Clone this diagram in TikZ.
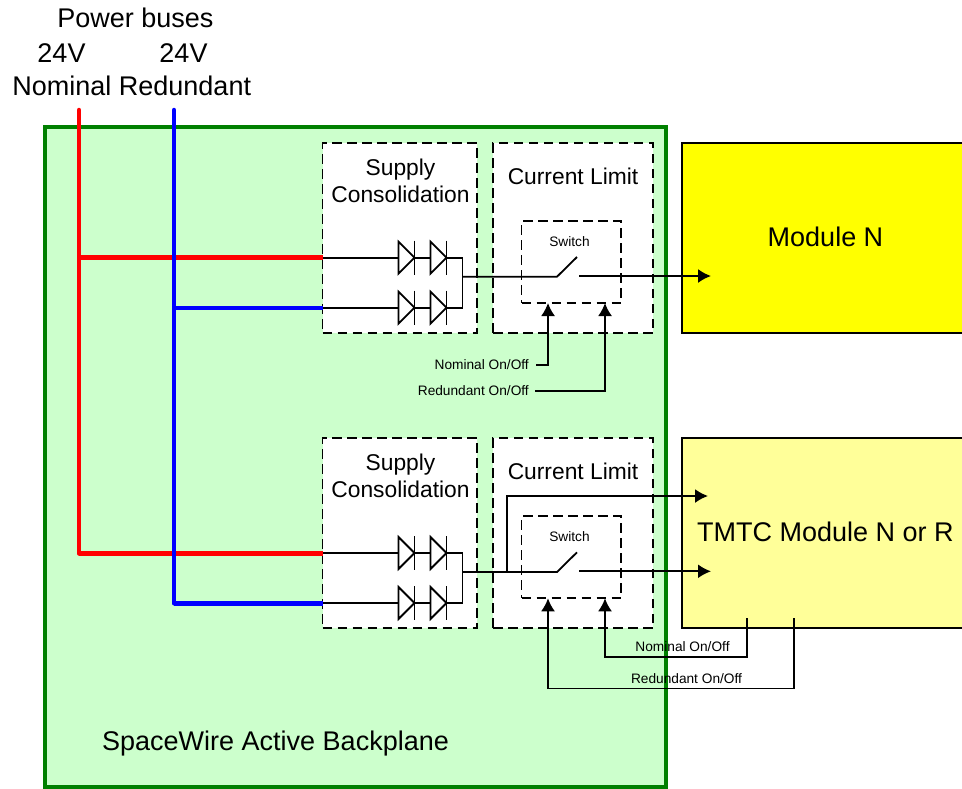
\documentclass[tikz,border=0pt]{standalone}
\usepackage{fontspec}
\setmainfont{Liberation Sans}
\usetikzlibrary{arrows.meta}
\definecolor{panelgreen}{HTML}{CCFFCC}
\definecolor{framegreen}{HTML}{008000}
\definecolor{paleyellow}{HTML}{FFFF99}
\definecolor{fullyellow}{HTML}{FFFF00}
\tikzset{
  sized/.style={rectangle,inner sep=0pt,outer sep=0pt,minimum width=#1},
  dashbox/.style={draw=black,line width=1.8pt,dash pattern=on 9.5pt off 5.5pt},
  wire/.style={draw=black,line width=1.8pt,line join=miter},
  arrowwire/.style={wire,-{Latex[length=13pt,width=14pt]}},
  bus/.style={line width=4.5pt,line cap=round},
  lbl/.style={inner sep=0pt,anchor=base,text=black},
  big/.style={lbl,font=\fontsize{27}{27}\selectfont},
  mid/.style={lbl,font=\fontsize{22.8}{22.8}\selectfont},
  tiny/.style={lbl,font=\fontsize{13.7}{13.7}\selectfont},
  module/.style={draw=black,line width=1.8pt,rectangle,inner sep=0pt,minimum width=287pt,minimum height=190pt},
  diodeshape/.pic={
    \coordinate (-in) at (-16,0);
    \coordinate (-out) at (0,0);
    \draw[wire] (-16,-16) -- (0,0) -- (-16,16) -- cycle;
    \draw[wire] (0,-17) -- (0,17);
  },
  unit/.pic={
    \node[sized=154.5pt,minimum height=190pt,dashbox,fill=white] (-sc) at (399.75,238) {};
    \node[sized=160pt,minimum height=190pt,dashbox,fill=white] (-cl) at (573,238) {};
    \node[sized=99.5pt,minimum height=82pt,dashbox] (-sw) at (571.25,262) {};
    \node[mid] (-t1) at (400.5,175) {Supply};
    \node[mid] (-t2) at (400.5,202) {Consolidation};
    \node[mid] (-t3) at (573,184.5) {Current Limit};
    \node[tiny] (-t4) at (569.5,246) {Switch};
    \pic (-d1) at (414.5,257.7) {diodeshape};
    \pic (-d2) at (446.5,257.7) {diodeshape};
    \pic (-d3) at (414.5,307.7) {diodeshape};
    \pic (-d4) at (446.5,307.7) {diodeshape};
    \coordinate (-a) at (322.5,257.7);
    \coordinate (-b) at (322.5,307.7);
    \coordinate (-j) at (462.5,276.7);
    \coordinate (-j1) at (462.5,257.7);
    \coordinate (-j2) at (462.5,307.7);
    \coordinate (-sw1) at (557,276.7);
    \coordinate (-sw2) at (577,257);
    \coordinate (-sw3) at (579,276);
    \coordinate (-p1) at (548,303);
    \coordinate (-p2) at (605,303);
    \draw[wire] (-a) -- (-d1-in);
    \draw[wire] (-d1-out) -- (-d2-in);
    \draw[wire] (-d2-out) -- (-j1) -- (-j2) -- (-d4-out);
    \draw[wire] (-b) -- (-d3-in);
    \draw[wire] (-d3-out) -- (-d4-in);
    \draw[wire] (-j) -- (-sw1) -- (-sw2);
  }
}
\begin{document}
\begin{tikzpicture}[x=1pt,y=-1pt]
\useasboundingbox (0,0) rectangle (962,788);
\clip (0,0) rectangle (962,788);
\node[rectangle,draw=framegreen,fill=panelgreen,line width=4.5pt,minimum width=621pt,minimum height=660pt,inner sep=0pt] (panel) at (355.5,457) {};
\node[module,fill=fullyellow] (modn) at (825.5,238) {};
\node[module,fill=paleyellow] (modt) at (825.5,533) {};
\coordinate (redtop) at (79,110);
\coordinate (bluetop) at (174,110);
\pic (u1) at (0,0) {unit};
\pic (u2) at (0,295.3) {unit};
\coordinate (redend) at (79,553.5);
\coordinate (blueend) at (174,603.3);
\coordinate (redj) at (79,257.5);
\coordinate (bluej) at (174,307.8);
\draw[bus,red,line cap=butt] (redj) -- (u1-a |- redj);
\draw[bus,red,line cap=butt] (redend) -- (u2-a |- redend);
\draw[bus,red] (redtop) -- (redend);
\draw[bus,blue,line cap=butt] (bluej) -- (u1-b |- bluej);
\draw[bus,blue,line cap=butt] (blueend) -- (u2-b |- blueend);
\draw[bus,blue] (bluetop) -- (blueend);
% upper unit outputs and controls
\coordinate (outn) at (711,276);
\draw[arrowwire] (u1-sw3) -- (outn);
\coordinate (nomu) at (536,365);
\coordinate (redu) at (535,391);
\draw[arrowwire] (nomu) -- (548,365) -- (u1-p1);
\draw[arrowwire] (redu) -- (605,391) -- (u1-p2);
% lower unit outputs and controls
\coordinate (outt1) at (711,571.3);
\coordinate (outt2) at (708,496);
\coordinate (tapt) at (507,572);
\draw[arrowwire] (u2-sw3) -- (outt1);
\draw[arrowwire] (tapt) -- (507,496) -- (outt2);
\coordinate (nomt) at (747,618);
\coordinate (redt) at (794,618);
\draw[arrowwire] (nomt) -- (747,657) -- (605,657) -- (u2-p2);
\draw[arrowwire] (redt) -- (794,688.5) -- (548,688.5) -- (u2-p1);
% texts
\node[big] (tbus) at (135.5,27) {Power buses};
\node[big] (tv1) at (61.5,62) {24V};
\node[big] (tv2) at (183.5,62) {24V};
\node[big] (tnom) at (62,95) {Nominal};
\node[big] (tred) at (185,95) {Redundant};
\node[big] (tmodn) at (825.5,246) {Module N};
\node[big] (tmodt) at (825.5,541) {TMTC Module N or R};
\node[big,anchor=base west] (tback) at (102,750) {SpaceWire Active Backplane};
\node[tiny,anchor=base east] (c1) at (529,369) {Nominal On/Off};
\node[tiny,anchor=base east] (c2) at (529,395) {Redundant On/Off};
\node[tiny] (c3) at (682.5,651) {Nominal On/Off};
\node[tiny] (c4) at (686.5,683) {Redundant On/Off};
\end{tikzpicture}
\end{document}
